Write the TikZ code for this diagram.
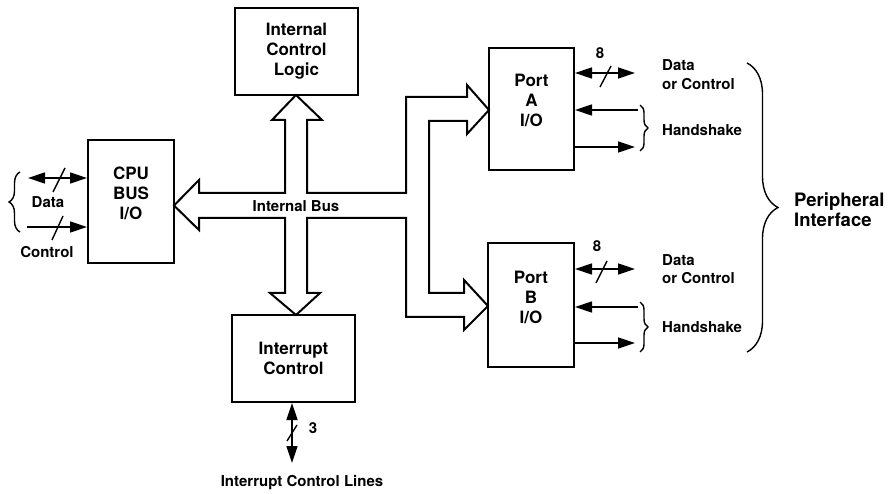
\documentclass[tikz,border=0pt]{standalone}
\usepackage{fontspec}
\setmainfont{TeX Gyre Heros}
\usetikzlibrary{arrows.meta,decorations.pathreplacing}
\begin{document}
\begin{tikzpicture}[x=1pt,y=-1pt,
  box/.style={draw,line width=2pt,fill=white,inner sep=0pt},
  boxtext/.style={font=\fontsize{17}{20}\selectfont\bfseries,align=center},
  lbl/.style={font=\fontsize{15}{18}\selectfont\bfseries,inner sep=0pt},
  sig/.style={line width=1.4pt,-{Triangle[length=17pt,width=11pt]}},
  bisig/.style={line width=1.4pt,{Triangle[length=17pt,width=11pt]}-{Triangle[length=17pt,width=11pt]}},
  slash/.style={line width=1.4pt},
  bus/.style={draw,line width=2pt,fill=white,line join=miter},
  curly/.style={draw,line width=1.4pt,decorate,decoration={brace,amplitude=#1}}
]
\useasboundingbox (0,0) rectangle (889,494);

% boxes
\node[box,minimum width=86pt,minimum height=123pt] (cpu) at (131,201.5) {};
\node[boxtext] (cput) at ([yshift=8pt]cpu.center) {CPU\\BUS\\I/O};
\node[box,boxtext,minimum width=123pt,minimum height=87pt] (icl) at (296.5,51.5) {Internal\\Control\\Logic};
\node[box,boxtext,minimum width=123pt,minimum height=87pt] (irq) at (293.5,358.5) {Interrupt\\Control};
\node[box,minimum width=85pt,minimum height=122pt] (pa) at (531.5,109) {};
\node[boxtext] (pat) at ([yshift=9pt]pa.center) {Port\\A\\I/O};
\node[box,minimum width=86pt,minimum height=124pt] (pb) at (531,305) {};
\node[boxtext] (pbt) at ([yshift=8pt]pb.center) {Port\\B\\I/O};

% internal bus
\draw[bus] (174,205.5) -- (199,180) -- (199,193) -- (285,193) -- (285,120) -- (272,120)
  -- (296,95) -- (322,120) -- (307,120) -- (307,193) -- (406,193) -- (406,97)
  -- (467,97) -- (467,85) -- (489,110) -- (467,134) -- (467,121) -- (429,121)
  -- (429,293) -- (464,293) -- (464,280) -- (488,306) -- (464,330) -- (464,317)
  -- (406,317) -- (406,218) -- (307,218) -- (307,293) -- (320,293) -- (296,315)
  -- (270,293) -- (285,293) -- (285,218) -- (199,218) -- (199,230) -- cycle;
\node[lbl] (busl) at (296,206) {Internal Bus};

% CPU side
\coordinate (cd) at (28,178);
\coordinate (cc) at (27,227);
\draw[bisig] (cd) -- (cd -| cpu.west);
\draw[sig] (cc) -- (cc -| cpu.west);
\draw[slash] (53,192) -- (65,168);
\draw[slash] (52,240) -- (63,216);
\draw[curly=11pt] (20,232) -- (20,172);
\node[lbl] (cdl) at (48,202) {Data};
\node[lbl] (ccl) at (47,252) {Control};

% Port A side
\coordinate (pa1) at (635,73);
\coordinate (pa2) at (638,110);
\coordinate (pa3) at (635,147);
\draw[bisig] (pa1 -| pa.east) -- (pa1);
\draw[sig] (pa2) -- (pa2 -| pa.east);
\draw[sig] (pa3 -| pa.east) -- (pa3);
\draw[slash] (600,87) -- (611,66);
\node[lbl] (pan) at (600,53) {8};
\draw[curly=8pt] (640,105) -- (640,151);
\node[lbl,align=left,anchor=west,font=\fontsize{15}{19}\selectfont\bfseries] (padl) at (662,75) {Data\\or Control};
\node[lbl,anchor=west] (pahl) at (662,130) {Handshake};

% Port B side
\coordinate (pb1) at (635,269);
\coordinate (pb2) at (638,307);
\coordinate (pb3) at (635,343);
\draw[bisig] (pb1 -| pb.east) -- (pb1);
\draw[sig] (pb2) -- (pb2 -| pb.east);
\draw[sig] (pb3 -| pb.east) -- (pb3);
\draw[slash] (596,283) -- (607,261);
\node[lbl] (pbn) at (597,246) {8};
\draw[curly=8pt] (640,302) -- (640,352);
\node[lbl,align=left,anchor=west,font=\fontsize{15}{18}\selectfont\bfseries] (pbdl) at (662,269) {Data\\or Control};
\node[lbl,anchor=west] (pbhl) at (662,327) {Handshake};

% peripheral brace
\draw[curly=31pt] (747,63) -- (747,352);
\node[anchor=west,align=left,font=\fontsize{18.5}{20}\selectfont\bfseries,inner sep=0pt] (peri) at (794,210) {Peripheral\\Interface};

% interrupt lines
\coordinate (il) at (292,463);
\draw[bisig] (il |- irq.south) -- (il);
\draw[slash] (287,441) -- (297,425);
\node[lbl] (iln) at (313,428) {3};
\node[lbl] (ill) at (302,483) {Interrupt Control Lines};
\end{tikzpicture}
\end{document}
